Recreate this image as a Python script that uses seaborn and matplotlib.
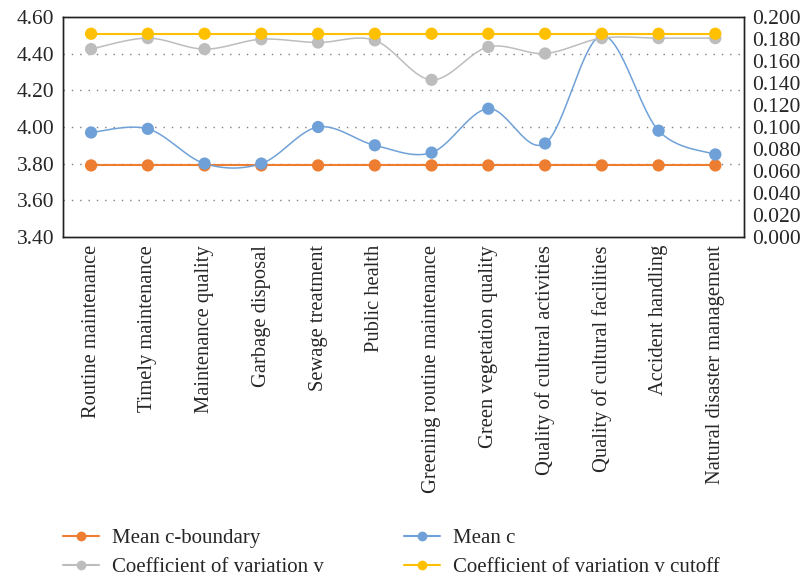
import matplotlib
matplotlib.use('Agg')
import matplotlib.pyplot as plt
import seaborn as sns
import numpy as np
import pandas as pd
from matplotlib.lines import Line2D

# ===== DATA =====
categories = ["Routine maintenance", "Timely maintenance", "Maintenance quality",
              "Garbage disposal", "Sewage treatment", "Public health",
              "Greening routine maintenance", "Green vegetation quality",
              "Quality of cultural activities", "Quality of cultural facilities",
              "Accident handling", "Natural disaster management"]
mean_c = [3.97, 3.99, 3.80, 3.80, 4.00, 3.90, 3.86, 4.10, 3.91, 4.50, 3.98, 3.85]
mean_c_boundary = [3.79] * 12
cv = [0.171, 0.181, 0.171, 0.180, 0.177, 0.179, 0.143, 0.173, 0.167, 0.181, 0.181, 0.181]
cv_cutoff = [0.185] * 12

left_ticks = [3.40, 3.60, 3.80, 4.00, 4.20, 4.40, 4.60]
right_ticks = [0.000, 0.020, 0.040, 0.060, 0.080, 0.100, 0.120, 0.140, 0.160, 0.180, 0.200]

ORANGE = "#ED7D31"
BLUE = "#6FA1D8"
GRAY = "#BDBDBD"
YELLOW = "#FFC000"
FS = 15.5

# ===== STYLE =====
sns.set_theme(style="white")
plt.rcParams['font.family'] = ['Liberation Serif', 'DejaVu Serif']
plt.rcParams['font.size'] = FS


def smooth(y, n=30):
    # excel-like smoothed line (catmull-rom bezier)
    y = np.asarray(y, dtype=float)
    x = np.arange(len(y), dtype=float)
    px, py = [], []
    for i in range(len(y) - 1):
        p0 = max(i - 1, 0)
        p3 = min(i + 2, len(y) - 1)
        c1x = x[i] + (x[i + 1] - x[p0]) / 6
        c1y = y[i] + (y[i + 1] - y[p0]) / 6
        c2x = x[i + 1] - (x[p3] - x[i]) / 6
        c2y = y[i + 1] - (y[p3] - y[i]) / 6
        t = np.linspace(0, 1, n)
        bx = (1 - t) ** 3 * x[i] + 3 * (1 - t) ** 2 * t * c1x + 3 * (1 - t) * t ** 2 * c2x + t ** 3 * x[i + 1]
        by = (1 - t) ** 3 * y[i] + 3 * (1 - t) ** 2 * t * c1y + 3 * (1 - t) * t ** 2 * c2y + t ** 3 * y[i + 1]
        px.extend(bx)
        py.extend(by)
    return np.array(px), np.array(py)


df = pd.DataFrame({"x": np.arange(len(categories)), "mean_c": mean_c,
                   "boundary": mean_c_boundary, "cv": cv, "cutoff": cv_cutoff})

fig = plt.figure(figsize=(8.04, 5.76), dpi=100)
ax = fig.add_axes([0.078, 0.589, 0.847, 0.381])
ax2 = ax.twinx()

# left axis series
for col, color, lw in [("boundary", ORANGE, 1.5), ("mean_c", BLUE, 1.1)]:
    sx, sy = smooth(df[col])
    ax.plot(sx, sy, color=color, lw=lw, zorder=2)
    sns.scatterplot(data=df, x="x", y=col, ax=ax, color=color, s=78,
                    edgecolor="none", zorder=3, legend=False)

# right axis series
for col, color, lw in [("cv", GRAY, 1.1), ("cutoff", YELLOW, 1.5)]:
    sx, sy = smooth(df[col])
    ax2.plot(sx, sy, color=color, lw=lw, zorder=2)
    sns.scatterplot(data=df, x="x", y=col, ax=ax2, color=color, s=78,
                    edgecolor="none", zorder=3, legend=False)

ax.set_xlim(-0.5, len(categories) - 0.5)
ax.set_ylim(3.40, 4.60)
ax.set_yticks(left_ticks)
ax.set_yticklabels([f"{v:.2f}" for v in left_ticks], fontsize=FS)
ax.set_xticks(range(len(categories)))
ax.set_xticklabels(categories, rotation=90, fontsize=14.8)
ax.set_xlabel("")
ax.set_ylabel("")
ax.tick_params(axis="both", length=0, pad=6)
for v in left_ticks[1:-1]:
    ax.axhline(v, color="#7f7f7f", lw=1, ls=(0, (1, 5)), zorder=1)

ax2.set_ylim(0, 0.2)
ax2.set_yticks(right_ticks)
ax2.set_yticklabels([f"{v:.3f}" for v in right_ticks], fontsize=FS)
ax2.set_ylabel("")
ax2.tick_params(axis="y", length=0, pad=6)

for a in (ax, ax2):
    for s in a.spines.values():
        s.set_color("#222222")
        s.set_linewidth(1.0)

handles = [
    Line2D([], [], color=ORANGE, marker="o", markersize=6, lw=1.5),
    Line2D([], [], color=GRAY, marker="o", markersize=6, lw=1.5),
    Line2D([], [], color=BLUE, marker="o", markersize=6, lw=1.5),
    Line2D([], [], color=YELLOW, marker="o", markersize=6, lw=1.5),
]
labels = ["Mean c-boundary", "Coefficient of variation v", "Mean c",
          "Coefficient of variation v cutoff"]
fig.legend(handles, labels, ncol=2, loc="upper left", bbox_to_anchor=(0.068, 0.097),
           frameon=False, fontsize=15, handlelength=1.73, columnspacing=3.85,
           labelspacing=0.45, handletextpad=0.63, borderaxespad=0)

fig.savefig("out.png", dpi=100)
